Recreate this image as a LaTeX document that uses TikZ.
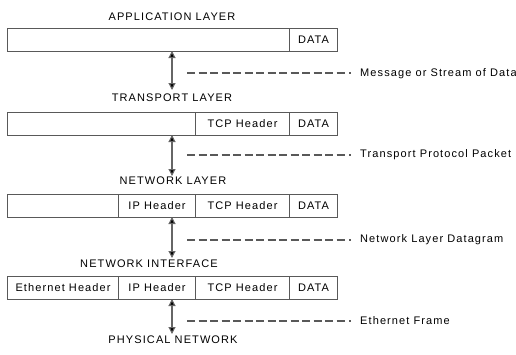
\documentclass[tikz,border=0pt]{standalone}
\usepackage{fontspec}
\setmainfont{Liberation Sans}[LetterSpace=10]
\usetikzlibrary{arrows.meta}
\begin{document}
\begin{tikzpicture}[x=1pt,y=-1pt,
  every node/.style={font=\fontsize{11}{13}\selectfont, text=black},
  cell/.style={draw=black!65, line width=1.1pt, minimum height=23pt, inner sep=0pt, anchor=north west},
  title/.style={inner sep=0pt},
  lbl/.style={inner sep=0pt, anchor=west},
  arr/.style={draw=black!60, line width=1.1pt, {Triangle[length=7pt,width=7pt,fill=black]}-{Triangle[length=7pt,width=7pt,fill=black]}},
  dsh/.style={draw=black!65, line width=1.1pt, dash pattern=on 8pt off 3.5pt}
]
\useasboundingbox (0,0) rectangle (516,354);
% application layer
\node[title] (tapp) at (172,17) {APPLICATION LAYER};
\node[cell, minimum width=282pt] (a1) at (7,28) {};
\node[cell, minimum width=48pt] (a2) at (289,28) {DATA};
% transport layer
\node[title] (ttr) at (172,98) {TRANSPORT LAYER};
\node[cell, minimum width=188pt] (b1) at (7,112) {};
\node[cell, minimum width=94pt] (b2) at (195,112) {TCP Header};
\node[cell, minimum width=48pt] (b3) at (289,112) {DATA};
% network layer
\node[title] (tnet) at (173,181) {NETWORK LAYER};
\node[cell, minimum width=111pt] (c1) at (7,194) {};
\node[cell, minimum width=77pt] (c2) at (118,194) {IP Header};
\node[cell, minimum width=94pt] (c3) at (195,194) {TCP Header};
\node[cell, minimum width=48pt] (c4) at (289,194) {DATA};
% network interface
\node[title] (tif) at (149,264) {NETWORK INTERFACE};
\node[cell, minimum width=111pt] (d1) at (7,276) {Ethernet Header};
\node[cell, minimum width=77pt] (d2) at (118,276) {IP Header};
\node[cell, minimum width=94pt] (d3) at (195,276) {TCP Header};
\node[cell, minimum width=48pt] (d4) at (289,276) {DATA};
% physical
\node[title] (tphy) at (173,340) {PHYSICAL NETWORK};
% arrows
\coordinate (p1t) at (172,51);  \coordinate (p1b) at (172,90);
\coordinate (p2t) at (172,135); \coordinate (p2b) at (172,176);
\coordinate (p3t) at (172,217); \coordinate (p3b) at (172,258);
\coordinate (p4t) at (172,299); \coordinate (p4b) at (172,334);
\draw[arr] (p1t) -- (p1b);
\draw[arr] (p2t) -- (p2b);
\draw[arr] (p3t) -- (p3b);
\draw[arr] (p4t) -- (p4b);
% dashed leaders and labels
\node[lbl] (l1) at (360,74) {Message or Stream of Data};
\node[lbl] (l2) at (360,155) {Transport Protocol Packet};
\node[lbl] (l3) at (360,240) {Network Layer Datagram};
\node[lbl] (l4) at (360,321) {Ethernet Frame};
\coordinate (s1) at (187,73);  \coordinate (s2) at (187,155);
\coordinate (s3) at (187,240); \coordinate (s4) at (187,321);
\foreach \s/\l in {s1/l1,s2/l2,s3/l3,s4/l4}{
  \draw[dsh] (\s) -- ([xshift=-14pt]\l.west |- \s);
  \draw[draw=black!65, line width=1.1pt] ([xshift=-11pt]\l.west |- \s) -- ([xshift=-9pt]\l.west |- \s);
}
\end{tikzpicture}
\end{document}
